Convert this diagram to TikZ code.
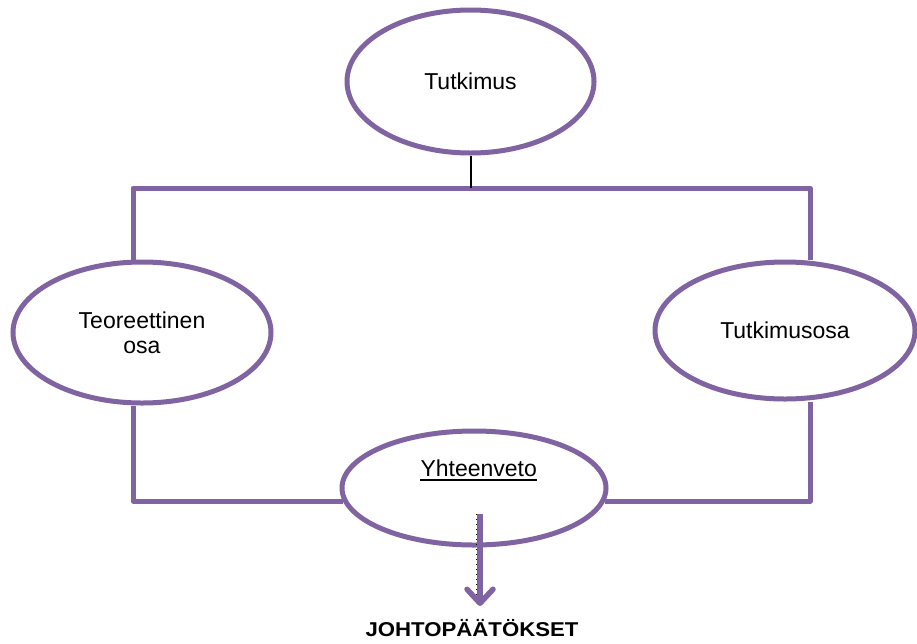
\documentclass[tikz,border=0pt]{standalone}
\usepackage{fontspec}
\setmainfont{Liberation Sans}
\usetikzlibrary{arrows.meta,shapes.geometric}
\definecolor{violetline}{HTML}{8064A2}
\tikzset{
  oval/.style={ellipse, draw=violetline, line width=5pt, fill=white, inner sep=0pt,
               align=center, font=\fontsize{23}{25}\selectfont},
  conn/.style={draw=violetline, line width=5pt, line join=round},
  lbl/.style={inner sep=0pt, font=\fontsize{23}{25}\selectfont},
}
\begin{document}
\begin{tikzpicture}[x=1pt, y=-1pt]
\useasboundingbox (0,0) rectangle (917,643);

% ovals
\node[oval, minimum width=247pt, minimum height=143pt] (tk) at (470.5,81.5) {Tutkimus};
\node[oval, minimum width=258pt, minimum height=141pt] (teo) at (142,332.5) {Teoreettinen\\osa};
\node[oval, minimum width=260pt, minimum height=137pt] (tos) at (785,330.5) {Tutkimusosa};
\node[oval, minimum width=264pt, minimum height=114pt] (yht) at (474,488) {};
\node[lbl, anchor=base] (yhtt) at (478.7,476) {Yhteenveto};
\draw[line width=1.5pt] ([yshift=-4pt]yhtt.base west) -- ([yshift=-4pt]yhtt.base east);

% frame connecting the ovals
\coordinate (tl) at (133,188);
\coordinate (tr) at (810,188);
\coordinate (bl) at (133,501);
\coordinate (br) at (810,501);
\draw[conn] (teo.north -| tl) -- (tl) -- (tr) -- (tos.north -| tr);
\draw[conn] (teo.south -| bl) -- (bl) -- ([xshift=3.5pt]bl -| yht.west);
\draw[conn] ([xshift=-3.5pt]br -| yht.east) -- (br) -- (tos.south -| br);
\draw[line width=2pt] (tk.south) -- (tk.south |- tl);

% outcome arrow
\coordinate (a0) at (480,514);
\coordinate (a1) at (480,606);
\draw[line width=1.2pt, dash pattern=on 1.2pt off 3.8pt] ([xshift=-3pt]a0) -- ([xshift=-3pt,yshift=6pt]a1);
\draw[draw=violetline, line width=5.5pt,
      -{Straight Barb[length=14pt, width=26pt, line cap=round, line join=round]}] (a0) -- (a1);

\node[anchor=base, inner sep=0pt, xscale=1.11, font=\fontsize{20}{22}\selectfont\bfseries] (res) at (472,636.7) {JOHTOPÄÄTÖKSET};
\end{tikzpicture}
\end{document}
